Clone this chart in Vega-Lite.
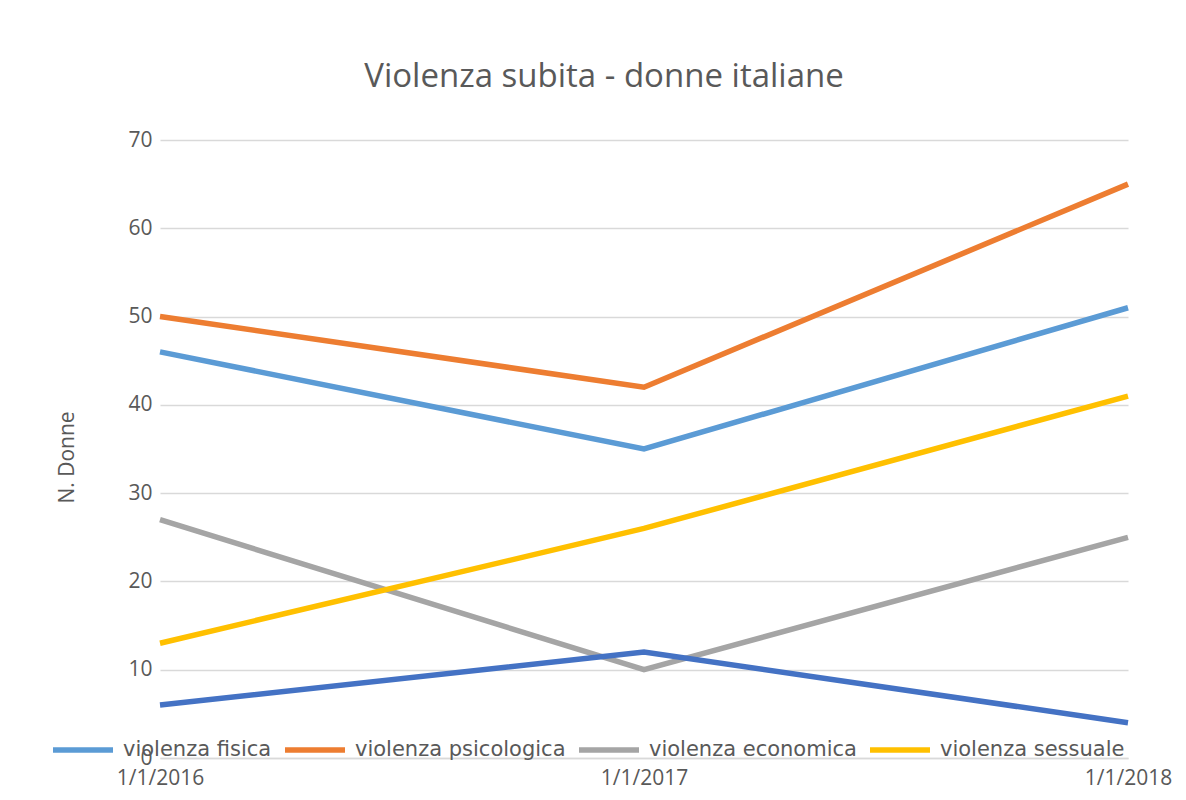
{
  "$schema": "https://vega.github.io/schema/vega-lite/v6.json",
  "width": 968,
  "height": 618,
  "autosize": {"type": "none"},
  "padding": {"left": 160, "top": 140, "right": 58, "bottom": 42},
  "background": "white",
  "view": {"stroke": null},
  "title": {
    "text": "Violenza subita - donne italiane",
    "font": "Open Sans",
    "fontSize": 33,
    "fontWeight": "normal",
    "color": "#595959",
    "anchor": "middle",
    "dx": -40,
    "offset": 9,
    "baseline": "alphabetic"
  },
  "data": {
    "values": [
      {"data": "1/1/2016", "serie": "violenza fisica", "valore": 46},
      {"data": "1/1/2017", "serie": "violenza fisica", "valore": 35},
      {"data": "1/1/2018", "serie": "violenza fisica", "valore": 51},
      {"data": "1/1/2016", "serie": "violenza psicologica", "valore": 50},
      {"data": "1/1/2017", "serie": "violenza psicologica", "valore": 42},
      {"data": "1/1/2018", "serie": "violenza psicologica", "valore": 65},
      {"data": "1/1/2016", "serie": "violenza economica", "valore": 27},
      {"data": "1/1/2017", "serie": "violenza economica", "valore": 10},
      {"data": "1/1/2018", "serie": "violenza economica", "valore": 25},
      {"data": "1/1/2016", "serie": "violenza sessuale", "valore": 13},
      {"data": "1/1/2017", "serie": "violenza sessuale", "valore": 26},
      {"data": "1/1/2018", "serie": "violenza sessuale", "valore": 41},
      {"data": "1/1/2016", "serie": "stalking", "valore": 6},
      {"data": "1/1/2017", "serie": "stalking", "valore": 12},
      {"data": "1/1/2018", "serie": "stalking", "valore": 4}
    ]
  },
  "mark": {"type": "line", "strokeWidth": 5.5, "strokeCap": "butt", "strokeJoin": "miter"},
  "encoding": {
    "x": {
      "field": "data",
      "type": "ordinal",
      "scale": {"type": "point", "padding": 0},
      "axis": {
        "title": null,
        "labelAngle": 0,
        "labelFont": "Open Sans",
        "labelFontSize": 21,
        "labelColor": "#595959",
        "labelPadding": 9,
        "ticks": false,
        "domain": true,
        "domainColor": "#D9D9D9",
        "domainWidth": 1.5,
        "grid": false
      }
    },
    "y": {
      "field": "valore",
      "type": "quantitative",
      "scale": {"domain": [0, 70], "nice": false},
      "axis": {
        "title": "N. Donne",
        "titleFont": "Open Sans",
        "titleFontSize": 21,
        "titleFontWeight": "normal",
        "titleColor": "#595959",
        "titleX": -83,
        "titleY": 317,
        "labelFont": "Open Sans",
        "labelFontSize": 21,
        "labelColor": "#595959",
        "labelPadding": 8,
        "values": [0, 10, 20, 30, 40, 50, 60, 70],
        "ticks": false,
        "domain": false,
        "grid": true,
        "gridColor": "#D9D9D9",
        "gridWidth": 1.5
      }
    },
    "color": {
      "field": "serie",
      "type": "nominal",
      "scale": {
        "domain": ["violenza fisica", "violenza psicologica", "violenza economica", "violenza sessuale", "stalking"],
        "range": ["#5B9BD5", "#ED7D31", "#A5A5A5", "#FFC000", "#4472C4"]
      },
      "legend": {
        "title": null,
        "orient": "none",
        "direction": "horizontal",
        "legendX": -110,
        "legendY": 577,
        "values": ["violenza fisica", "violenza psicologica", "violenza economica", "violenza sessuale"],
        "symbolType": "stroke",
        "symbolSize": 3600,
        "symbolStrokeWidth": 5.5,
        "labelFont": "DejaVu Sans",
        "labelFontSize": 21,
        "labelColor": "#595959",
        "labelOffset": 7,
        "columnPadding": 2,
        "labelLimit": 400
      }
    }
  }
}
